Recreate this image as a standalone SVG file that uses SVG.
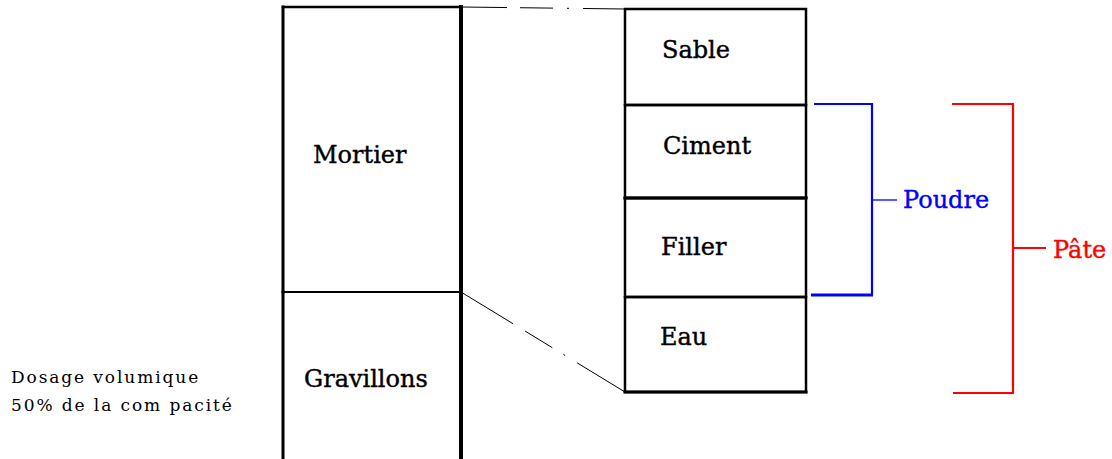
<svg xmlns="http://www.w3.org/2000/svg" width="1112" height="459" viewBox="0 0 1112 459">
<style>
.box{fill:none;stroke:#000;stroke-linecap:square}
.lbl{font-family:"DejaVu Serif","Liberation Serif",serif;font-size:24px;fill:#000;stroke:#000;stroke-width:0.4}
.note{font-family:"DejaVu Serif","Liberation Serif",serif;font-size:17px;fill:#000;letter-spacing:1.9px}
.link{fill:none;stroke:#000;stroke-width:1}
.blue{fill:none;stroke:#0000ff}
.red{fill:none;stroke:#ff0000}
</style>
<rect width="1112" height="459" fill="#fff"/>
<g id="mortier">
  <line class="box" x1="283" y1="7" x2="461" y2="7" stroke-width="2.5"/>
  <line class="box" x1="283" y1="7" x2="283" y2="292" stroke-width="3"/>
  <line class="box" x1="461" y1="7" x2="461" y2="292" stroke-width="4"/>
  <line class="box" x1="283" y1="292" x2="461" y2="292" stroke-width="2"/>
  <text class="lbl" x="313" y="163">Mortier</text>
</g>
<g id="gravillons">
  <line class="box" x1="283" y1="292" x2="283" y2="470" stroke-width="3"/>
  <line class="box" x1="461" y1="292" x2="461" y2="470" stroke-width="4"/>
  <text class="lbl" x="304" y="387">Gravillons</text>
</g>
<g id="sable">
  <rect class="box" x="625" y="9" width="181" height="96" stroke-width="2.5"/>
  <text class="lbl" x="662" y="58">Sable</text>
</g>
<g id="ciment">
  <rect class="box" x="625" y="105" width="181" height="93" stroke-width="2.5"/>
  <text class="lbl" x="663" y="154">Ciment</text>
</g>
<g id="filler">
  <rect class="box" x="625" y="198" width="181" height="99" stroke-width="2.5"/>
  <line class="box" x1="625" y1="198" x2="806" y2="198" stroke-width="3.2"/>
  <text class="lbl" x="661" y="255">Filler</text>
</g>
<g id="eau">
  <rect class="box" x="625" y="297" width="181" height="95" stroke-width="2.5"/>
  <line class="box" x1="625" y1="392" x2="806" y2="392" stroke-width="3"/>
  <text class="lbl" x="660" y="345">Eau</text>
</g>
<g id="dosage">
  <text class="note" x="11" y="383">Dosage volumique</text>
  <text class="note" x="11" y="411">50% de la com pacité</text>
</g>
<g id="connectors">
  <line class="link" x1="461" y1="7" x2="625" y2="9" stroke-dasharray="46 13 33 14 2 14 43"/>
  <line class="link" x1="461" y1="292" x2="625" y2="392" stroke-dasharray="61 14 32 13 2 14 57"/>
  <polyline class="blue" points="814,104 872,104 872,295" stroke-width="2.2"/>
  <line class="blue" x1="811" y1="295" x2="873" y2="295" stroke-width="3"/>
  <line class="blue" x1="872" y1="200" x2="897" y2="200" stroke-width="1.3"/>
  <polyline class="red" points="952,104 1013,104 1013,393 953,393" stroke-width="2.2"/>
  <line class="red" x1="1013" y1="248" x2="1046" y2="248" stroke-width="2"/>
</g>
<g id="poudre">
  <text class="lbl" x="903" y="208" style="fill:#0000ff;stroke:#0000ff">Poudre</text>
</g>
<g id="pate">
  <text class="lbl" x="1053" y="258" style="fill:#ff0000;stroke:#ff0000">Pâte</text>
</g>
</svg>
